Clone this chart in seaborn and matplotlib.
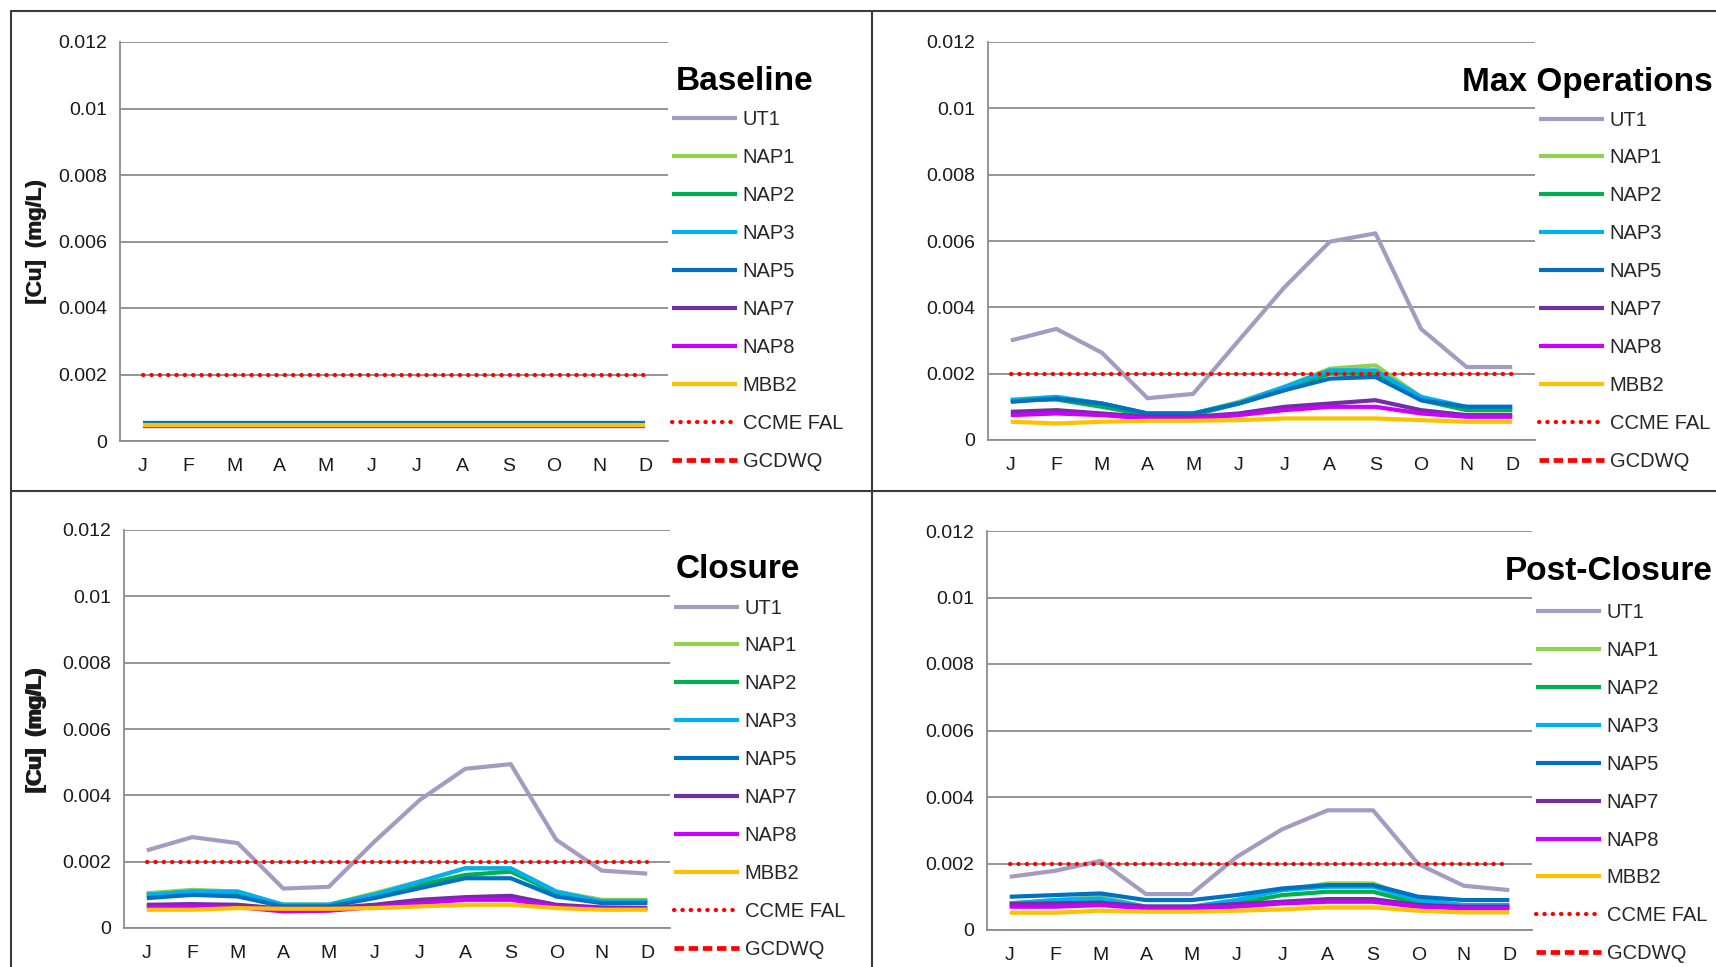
"""Monthly dissolved copper concentrations for four mine phases, 2x2 panel layout."""
import matplotlib

matplotlib.use("Agg")
import matplotlib.pyplot as plt
from matplotlib.lines import Line2D
from matplotlib.ticker import FuncFormatter, FixedLocator
import seaborn as sns

# ------------------------------------------------------------------ #
# Data (mg/L)
# ------------------------------------------------------------------ #
MONTHS = ["J", "F", "M", "A", "M", "J", "J", "A", "S", "O", "N", "D"]
SERIES = ["UT1", "NAP1", "NAP2", "NAP3", "NAP5", "NAP7", "NAP8", "MBB2"]

CCME_FAL = [0.002] * 12
GCDWQ = [2.0] * 12  # guideline is far above the plotted range

baseline_ut1 = [0.0005] * 12
baseline_nap1 = [0.00052] * 12
baseline_nap2 = [0.00052] * 12
baseline_nap3 = [0.00053] * 12
baseline_nap5 = [0.00055] * 12
baseline_nap7 = [0.00044] * 12
baseline_nap8 = [0.00045] * 12
baseline_mbb2 = [0.00048] * 12

maxops_ut1 = [0.0030, 0.00335, 0.00263, 0.00126, 0.00139, 0.0030,
              0.0046, 0.00598, 0.00623, 0.00335, 0.0022, 0.0022]
maxops_nap1 = [0.00122, 0.0013, 0.0011, 0.0008, 0.0008, 0.00115,
               0.0016, 0.00215, 0.00225, 0.0013, 0.0009, 0.0009]
maxops_nap2 = [0.0012, 0.00122, 0.001, 0.00075, 0.00075, 0.0011,
               0.0015, 0.002, 0.002, 0.0012, 0.0009, 0.0009]
maxops_nap3 = [0.0012, 0.0013, 0.0011, 0.0008, 0.0008, 0.00112,
               0.0016, 0.0021, 0.0021, 0.0013, 0.001, 0.001]
maxops_nap5 = [0.00115, 0.00125, 0.0011, 0.0008, 0.0008, 0.0011,
               0.0015, 0.00185, 0.0019, 0.0012, 0.001, 0.001]
maxops_nap7 = [0.00085, 0.0009, 0.0008, 0.0007, 0.0007, 0.0008,
               0.001, 0.0011, 0.0012, 0.0009, 0.00075, 0.00075]
maxops_nap8 = [0.00075, 0.0008, 0.00075, 0.00065, 0.00065, 0.00075,
               0.0009, 0.001, 0.001, 0.0008, 0.0007, 0.0007]
maxops_mbb2 = [0.00055, 0.0005, 0.00055, 0.00058, 0.00058, 0.0006,
               0.00065, 0.00065, 0.00065, 0.0006, 0.00055, 0.00055]

closure_ut1 = [0.00234, 0.00274, 0.00256, 0.00119, 0.00124, 0.0026,
               0.00386, 0.0048, 0.00494, 0.00266, 0.00173, 0.00164]
closure_nap1 = [0.00105, 0.00115, 0.0011, 0.0007, 0.0007, 0.00105,
                0.0014, 0.0018, 0.0018, 0.0011, 0.00085, 0.00085]
closure_nap2 = [0.001, 0.0011, 0.00105, 0.0007, 0.0007, 0.001,
                0.0013, 0.0016, 0.0017, 0.00105, 0.0008, 0.0008]
closure_nap3 = [0.001, 0.0011, 0.0011, 0.0007, 0.0007, 0.001,
                0.0014, 0.0018, 0.0018, 0.0011, 0.0008, 0.0008]
closure_nap5 = [0.0009, 0.001, 0.00095, 0.00065, 0.00065, 0.0009,
                0.0012, 0.0015, 0.0015, 0.00095, 0.00075, 0.00075]
closure_nap7 = [0.0007, 0.00072, 0.0007, 0.00058, 0.0006, 0.0007,
                0.00085, 0.00093, 0.00097, 0.0007, 0.00062, 0.0006]
closure_nap8 = [0.00063, 0.00065, 0.00063, 0.0005, 0.00052, 0.00063,
                0.00075, 0.00085, 0.00085, 0.00065, 0.00058, 0.00058]
closure_mbb2 = [0.00055, 0.00055, 0.0006, 0.00058, 0.00058, 0.0006,
                0.00065, 0.0007, 0.0007, 0.0006, 0.00055, 0.00055]

postclosure_ut1 = [0.0016, 0.00178, 0.00208, 0.00108, 0.00108, 0.0022,
                   0.00303, 0.0036, 0.0036, 0.00198, 0.00133, 0.0012]
postclosure_nap1 = [0.0008, 0.0009, 0.001, 0.0007, 0.0007, 0.0009,
                    0.0012, 0.0014, 0.0014, 0.0009, 0.00075, 0.00075]
postclosure_nap2 = [0.00075, 0.0008, 0.0009, 0.0007, 0.0007, 0.0008,
                    0.00105, 0.00115, 0.00115, 0.0008, 0.0007, 0.0007]
postclosure_nap3 = [0.0008, 0.0009, 0.00095, 0.0007, 0.0007, 0.0009,
                    0.0012, 0.0013, 0.0013, 0.0009, 0.00075, 0.00075]
postclosure_nap5 = [0.001, 0.00105, 0.0011, 0.0009, 0.0009, 0.00105,
                    0.00125, 0.00135, 0.00135, 0.001, 0.0009, 0.0009]
postclosure_nap7 = [0.00078, 0.0008, 0.00082, 0.0007, 0.0007, 0.00078,
                    0.00085, 0.00093, 0.00093, 0.00075, 0.0007, 0.0007]
postclosure_nap8 = [0.0007, 0.0007, 0.00075, 0.00065, 0.00065, 0.0007,
                    0.0008, 0.00085, 0.00085, 0.0007, 0.00065, 0.00065]
postclosure_mbb2 = [0.00052, 0.00052, 0.00058, 0.00055, 0.00055, 0.00058,
                    0.00062, 0.00068, 0.00068, 0.00058, 0.00053, 0.00053]

PHASES = ["Baseline", "Max Operations", "Closure", "Post-Closure"]
PHASE_DATA = {
    "Baseline": [baseline_ut1, baseline_nap1, baseline_nap2, baseline_nap3,
                 baseline_nap5, baseline_nap7, baseline_nap8, baseline_mbb2],
    "Max Operations": [maxops_ut1, maxops_nap1, maxops_nap2, maxops_nap3,
                       maxops_nap5, maxops_nap7, maxops_nap8, maxops_mbb2],
    "Closure": [closure_ut1, closure_nap1, closure_nap2, closure_nap3,
                closure_nap5, closure_nap7, closure_nap8, closure_mbb2],
    "Post-Closure": [postclosure_ut1, postclosure_nap1, postclosure_nap2,
                     postclosure_nap3, postclosure_nap5, postclosure_nap7,
                     postclosure_nap8, postclosure_mbb2],
}

COLORS = {
    "UT1": "#A59BC2", "NAP1": "#92D050", "NAP2": "#00B050", "NAP3": "#00B0F0",
    "NAP5": "#0070C0", "NAP7": "#7030A0", "NAP8": "#CC00FF", "MBB2": "#FFC000",
}

# ------------------------------------------------------------------ #
# Layout (figure pixels -> fractions), 1716 x 967
# ------------------------------------------------------------------ #
W, H = 1716, 967
AXES_PX = {  # left, top, right, bottom in pixels
    "Baseline": (120, 42, 668, 441),
    "Max Operations": (988, 42, 1535, 440),
    "Closure": (124, 530, 670, 928),
    "Post-Closure": (987, 531, 1532, 930),
}
# (x, y, horizontal alignment) of the panel titles
TITLE_PX = {
    "Baseline": (676, 82, "left"),
    "Max Operations": (1713, 82, "right"),
    "Closure": (676, 570, "left"),
    "Post-Closure": (1713, 571, "right"),
}
LEGEND_Y = {"Baseline": 0.377, "Max Operations": 0.375,
            "Closure": 0.375, "Post-Closure": 0.368}

sns.set_style("white")
plt.rcParams["font.family"] = ["Liberation Sans", "DejaVu Sans"]

GRID = "#8C8C8C"
TEXT = "#1A1A1A"

fig = plt.figure(figsize=(W / 100, H / 100), dpi=100)
x_idx = list(range(len(MONTHS)))

for phase in PHASES:
    l, t, r, b = AXES_PX[phase]
    ax = fig.add_axes([l / W, 1 - b / H, (r - l) / W, (b - t) / H])

    for name, values in zip(SERIES, PHASE_DATA[phase]):
        sns.lineplot(x=x_idx, y=values, ax=ax, color=COLORS[name], lw=3.0,
                     label=name, solid_joinstyle="round", solid_capstyle="butt")
    sns.lineplot(x=x_idx, y=CCME_FAL, ax=ax, color="#FF0000", lw=3.0,
                 label="CCME FAL", linestyle=(0, (0.1, 1.9)),
                 dash_capstyle="round")
    sns.lineplot(x=x_idx, y=GCDWQ, ax=ax, color="#FF0000", lw=3.4,
                 label="GCDWQ", linestyle=(0, (2.0, 1.0)))

    # axes styling (Excel look)
    ax.set_xlim(-0.5, 11.5)
    ax.set_ylim(0, 0.012)
    ax.yaxis.set_major_locator(FixedLocator([0, 0.002, 0.004, 0.006, 0.008, 0.01, 0.012]))
    ax.yaxis.set_major_formatter(FuncFormatter(lambda v, _: f"{v:g}"))
    ax.set_xticks(x_idx)
    ax.set_xticklabels(MONTHS)
    ax.set_xticks([i - 0.5 for i in range(13)], minor=True)
    ax.tick_params(axis="x", which="major", length=0, pad=12,
                   labelsize=14, labelcolor=TEXT)
    ax.tick_params(axis="x", which="minor", length=6, width=1.2,
                   color=GRID, direction="out")
    ax.tick_params(axis="y", which="major", length=5, width=1.2,
                   color=GRID, direction="out", pad=4,
                   labelsize=14, labelcolor=TEXT)
    ax.grid(axis="y", color=GRID, lw=1.3)
    ax.set_axisbelow(True)
    for side in ("top", "right"):
        ax.spines[side].set_visible(False)
    for side in ("left", "bottom"):
        ax.spines[side].set_color(GRID)
        ax.spines[side].set_linewidth(1.3)
    ax.set_xlabel("")
    ax.set_ylabel("[Cu]  (mg/L)", fontsize=16, fontweight="bold",
                  color=TEXT, labelpad=6)
    ax.yaxis.set_label_coords(-(l - 47) / (r - l), 0.5)

    ax.legend(loc="center left", bbox_to_anchor=(1.008, LEGEND_Y[phase]),
              frameon=False, fontsize=14.5, handlelength=3.2,
              handletextpad=0.3, labelspacing=0.94, borderpad=0,
              borderaxespad=0)

    tx, ty, tha = TITLE_PX[phase]
    fig.text(tx / W, 1 - ty / H, phase, fontsize=24, fontweight="bold",
             ha=tha, va="center", color="#000000")

# Panel borders
BORDER = "#3A3A3A"
for xs, ys in [
    ((11, W), (11, 11)),
    ((11, 11), (11, H)),
    ((872, 872), (11, H)),
    ((11, W), (491, 491)),
]:
    fig.add_artist(Line2D([x / W for x in xs], [1 - y / H for y in ys],
                          transform=fig.transFigure, color=BORDER, lw=1.5))

fig.savefig("out.png", dpi=100, facecolor="white")
plt.close(fig)
